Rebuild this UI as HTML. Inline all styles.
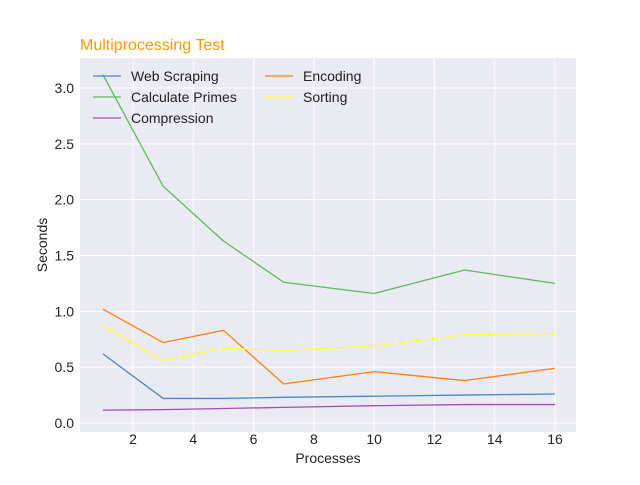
<!DOCTYPE html>
<html><head><meta charset="utf-8"><style>
body{margin:0;background:#fff;font-family:"Liberation Sans",sans-serif}
</style></head><body>
<svg id="c" width="640" height="480" xmlns="http://www.w3.org/2000/svg"></svg>
<script>
const xs=[1,3,5,7,10,13,16];
const seriesNames=["Web Scraping","Calculate Primes","Compression","Encoding","Sorting"];
const webScraping=[0.62,0.22,0.22,0.23,0.24,0.25,0.26];
const calcPrimes=[3.12,2.12,1.63,1.26,1.16,1.37,1.25];
const compression=[0.115,0.12,0.13,0.14,0.155,0.165,0.165];
const encoding=[1.02,0.72,0.83,0.35,0.46,0.38,0.49];
const sorting=[0.87,0.56,0.67,0.65,0.69,0.79,0.80];
const xTicks=[2,4,6,8,10,12,14,16];
const yTicks=[0,0.5,1,1.5,2,2.5,3];
const colors=["#4a88c7","#5fba5c","#a050b0","#ff8010","#ffff40"];
const all=[webScraping,calcPrimes,compression,encoding,sorting];
const L=80,R=576,T=58,B=432;
const X=v=>133+(v-2)*(555-133)/14;
const Y=v=>423-v*(423-88)/3;
const svg=document.getElementById('c');
const NS="http://www.w3.org/2000/svg";
function mk(t,a,txt){const e=document.createElementNS(NS,t);for(const k in a)e.setAttribute(k,a[k]);if(txt!=null)e.textContent=txt;svg.appendChild(e);return e;}
let bg=mk('rect',{x:L,y:T,width:R-L,height:B-T,fill:'#eaeaf2'});


xTicks.forEach(t=>{
 let g=mk('line',{x1:X(t),x2:X(t),y1:T,y2:B,stroke:'#fff','stroke-width':1});
 
 
 let l=mk('text',{x:X(t),y:444,'font-size':14,'text-anchor':'middle',fill:'#222'},t);
 
 
});
yTicks.forEach(t=>{
 let g=mk('line',{x1:L,x2:R,y1:Y(t),y2:Y(t),stroke:'#fff','stroke-width':1});
 
 
 let l=mk('text',{x:74,y:Y(t)+5,'font-size':14,'text-anchor':'end',fill:'#222'},t.toFixed(1));
 
 
});
all.forEach((s,i)=>{
 let p=mk('polyline',{points:s.map((v,j)=>X(xs[j])+','+Y(v)).join(' '),fill:'none',stroke:colors[i],'stroke-width':1.3});
 
 
});
const lp=[[93,76],[93,97],[93,118],[265,76],[265,97]];
seriesNames.forEach((n,i)=>{
 let l=mk('line',{x1:lp[i][0],x2:lp[i][0]+28,y1:lp[i][1],y2:lp[i][1],stroke:colors[i],'stroke-width':1.3});
 
 
 let t=mk('text',{x:lp[i][0]+38,y:lp[i][1]+5,'font-size':14,fill:'#222'},n);
 
 
});
let ti=mk('text',{x:80,y:50,'font-size':16,fill:'#ff9900'},'Multiprocessing Test');


let xt=mk('text',{x:328,y:463,'font-size':14,'text-anchor':'middle',fill:'#222'},'Processes');


let yt=mk('text',{x:47,y:245,'font-size':14,'text-anchor':'middle',fill:'#222',transform:'rotate(-90 47 245)'},'Seconds');


</script>
</body></html>
